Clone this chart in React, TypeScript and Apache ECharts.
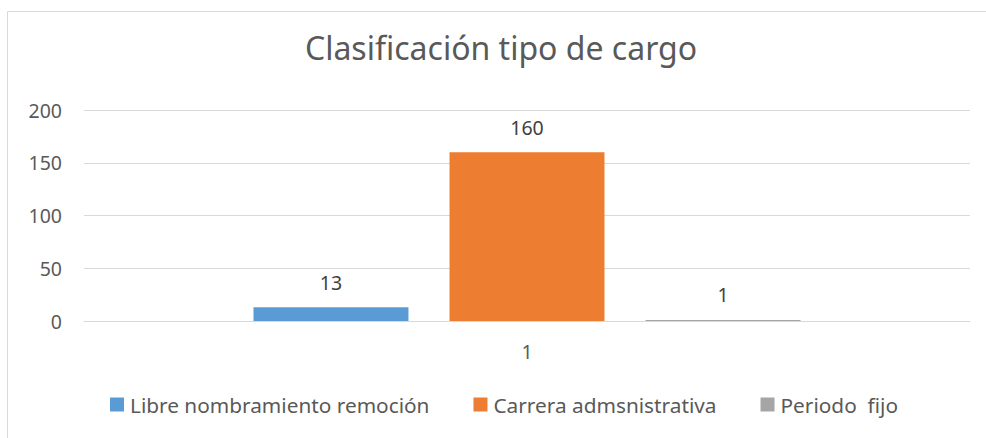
import React, { useEffect, useRef } from "react";
import * as echarts from "echarts";

const categories = ["1"];
const seriesNames = ["Libre nombramiento remoción", "Carrera admsnistrativa", "Periodo  fijo"];
const seriesValues = [[13], [160], [1]];
const seriesColors = ["#5B9BD5", "#ED7D31", "#A5A5A5"];
const yTicks = { min: 0, max: 200, interval: 50 };
const titleText = "Clasificación tipo de cargo";

const FONT = "Noto Sans";

export default function App() {
  const ref = useRef<HTMLDivElement>(null);
  useEffect(() => {
    if (!ref.current) return;
    const chart = echarts.init(ref.current, null, { renderer: "svg" });
    chart.setOption({
      animation: false,
      backgroundColor: "#ffffff",
      textStyle: { fontFamily: FONT },
      title: {
        text: titleText,
        left: 501,
        top: 31,
        padding: 0,
        textAlign: "center",
        textStyle: { fontFamily: FONT, fontSize: 32, fontWeight: "normal", color: "#595959" },
      },
      graphic: [
        {
          type: "rect",
          shape: { x: 7.5, y: 11.5, width: 1100, height: 600 },
          style: { fill: "none", stroke: "#D9D9D9", lineWidth: 1 },
          silent: true,
        },
      ],
      legend: {
        left: 110,
        top: 394,
        padding: 0,
        icon: "rect",
        itemWidth: 14,
        itemHeight: 14,
        itemGap: 44,
        data: seriesNames,
        textStyle: { fontFamily: FONT, fontSize: 20.8, color: "#595959", padding: [0, 0, 0, 1] },
      },
      grid: { left: 84, right: 16, top: 110, bottom: 117, containLabel: false },
      xAxis: {
        type: "category",
        data: categories,
        axisLine: { show: true, lineStyle: { color: "#D9D9D9", width: 1 } },
        axisTick: { show: false },
        axisLabel: { color: "#595959", fontSize: 19.5, fontFamily: FONT, margin: 20 },
      },
      yAxis: {
        type: "value",
        min: yTicks.min,
        max: yTicks.max,
        interval: yTicks.interval,
        axisLine: { show: false },
        axisTick: { show: false },
        splitLine: { lineStyle: { color: "#D9D9D9", width: 1 } },
        axisLabel: { color: "#595959", fontSize: 19.5, fontFamily: FONT, margin: 22 },
      },
      series: seriesNames.map((name, i) => ({
        name,
        type: "bar",
        data: seriesValues[i],
        barGap: "26.5%",
        barCategoryGap: "38.26%",
        itemStyle: { color: seriesColors[i] },
        label: {
          show: true,
          position: "top",
          distance: 15,
          color: "#404040",
          fontSize: 19.5,
          fontFamily: FONT,
        },
      })),
    });
    return () => chart.dispose();
  }, []);
  return (
    <div
      ref={ref}
      style={{ position: "absolute", left: 0, top: 0, width: 986, height: 438 }}
    />
  );
}
